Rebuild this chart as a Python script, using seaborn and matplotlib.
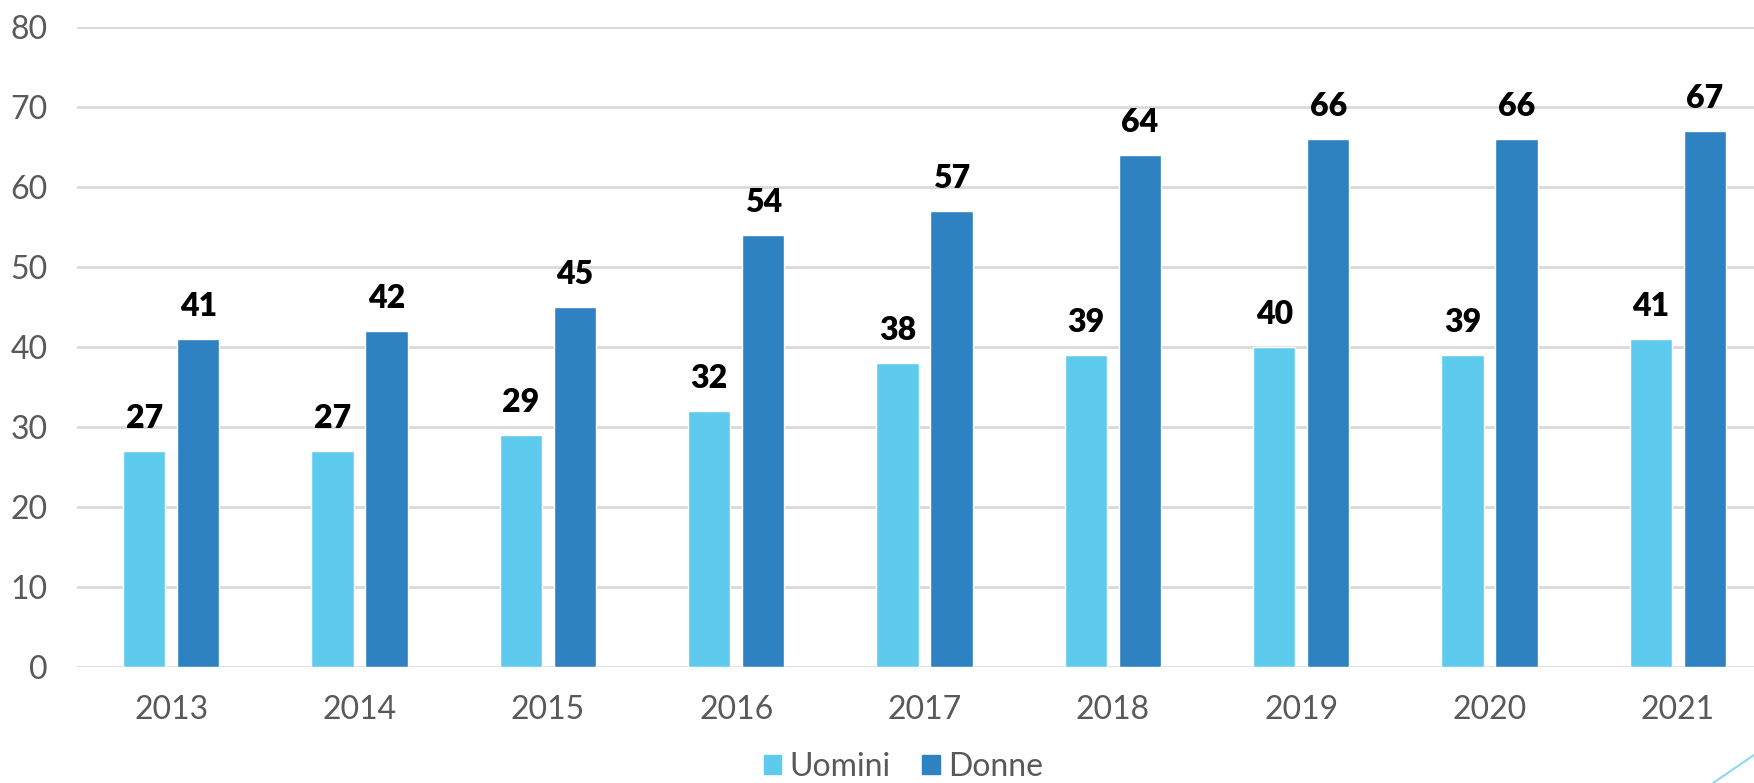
import pandas as pd
import seaborn as sns
import matplotlib.pyplot as plt
from matplotlib.lines import Line2D

anni = ['2013', '2014', '2015', '2016', '2017', '2018', '2019', '2020', '2021']
uomini = [27, 27, 29, 32, 38, 39, 40, 39, 41]
donne = [41, 42, 45, 54, 57, 64, 66, 66, 67]
serie = ['Uomini', 'Donne']
colori = ['#5ECBEE', '#2E82C2']

df = pd.DataFrame({'Anno': anni * 2,
                   'Valore': uomini + donne,
                   'Serie': [serie[0]] * len(anni) + [serie[1]] * len(anni)})

sns.set_style('white')
plt.rcParams['font.family'] = ['Lato', 'DejaVu Sans']

W, H = 1754, 783
fig = plt.figure(figsize=(W / 100, H / 100), dpi=100)
# plot area extends past the right edge (chart is cropped in the reference)
ax = fig.add_axes([77 / W, (H - 667) / H, (1772 - 77) / W, 640 / H])

sns.barplot(data=df, x='Anno', y='Valore', hue='Serie', palette=colori,
            width=0.573, gap=0.22, ax=ax, legend=False, saturation=1)

ax.set_xlim(-0.5, 8.5)
ax.set_ylim(0, 80)
ax.set_yticks(range(0, 81, 10))
ax.grid(axis='y', color='#d9d9d9', linewidth=2)
ax.set_axisbelow(True)
for s in ax.spines.values():
    s.set_visible(False)
ax.set_xlabel('')
ax.set_ylabel('')
ax.tick_params(axis='both', length=0, labelsize=23, labelcolor='#595959')
ax.tick_params(axis='x', pad=20)
ax.tick_params(axis='y', pad=21)

for cont in ax.containers:
    ax.bar_label(cont, fmt='%d', padding=13, fontsize=23, fontweight='heavy', color='black')

handles = [plt.Rectangle((0, 0), 1, 1, color=c) for c in colori]
fig.legend(handles, serie, loc='lower center', bbox_to_anchor=(0.515, -0.035), ncol=2,
           frameon=False, fontsize=23, labelcolor='#595959', handlelength=0.55,
           handleheight=0.55, handletextpad=0.25, columnspacing=1.0)

# decorative slide line at bottom right
fig.add_artist(Line2D([1713 / W, 1], [0, (H - 755) / H], color='#8fd8f5', linewidth=1.5))

fig.savefig('out.png', dpi=100)
